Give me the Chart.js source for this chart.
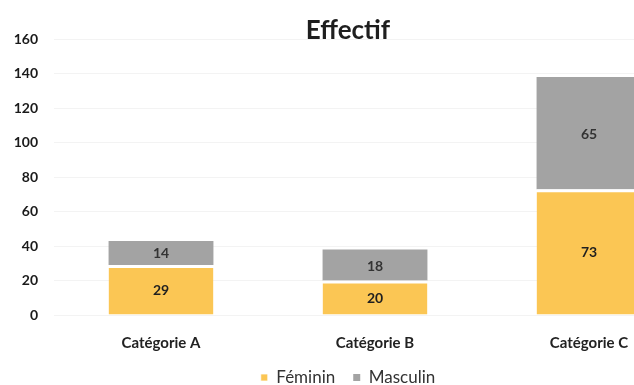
<!DOCTYPE html>
<html>
<head>
<meta charset="utf-8">
<script src="https://cdn.jsdelivr.net/npm/chart.js@4/dist/chart.umd.min.js"></script>
<style>
  html, body { margin: 0; padding: 0; background: #fff; overflow: hidden; }
  #wrap { width: 696px; height: 396px; }
</style>
</head>
<body>
<div id="wrap"><canvas id="c" width="696" height="396"></canvas></div>
<script>
const categories = ['Catégorie A', 'Catégorie B', 'Catégorie C'];
const feminin = [29, 20, 73];
const masculin = [14, 18, 65];
const yTicks = [0, 20, 40, 60, 80, 100, 120, 140, 160];

const FONT = 'Lato, "Open Sans", sans-serif';

// Writes each segment's value in the middle of its bar piece
const segmentValues = {
  id: 'segmentValues',
  afterDatasetsDraw(chart) {
    const ctx = chart.ctx;
    ctx.save();
    ctx.font = 'bold 14px ' + FONT;
    ctx.textAlign = 'center';
    ctx.textBaseline = 'middle';
    chart.data.datasets.forEach((ds, i) => {
      const meta = chart.getDatasetMeta(i);
      meta.data.forEach((bar, j) => {
        const p = bar.getProps(['x', 'y', 'base'], true);
        ctx.fillStyle = ds.valueColor;
        ctx.fillText(String(ds.data[j]), p.x, (p.y + p.base) / 2 + 1);
      });
    });
    ctx.restore();
  }
};

new Chart(document.getElementById('c'), {
  type: 'bar',
  data: {
    labels: categories,
    datasets: [
      {
        label: 'Féminin',
        data: feminin,
        backgroundColor: '#fbc654',
        borderColor: '#ffffff',
        borderWidth: { top: 3, right: 0, bottom: 0, left: 0 },
        borderSkipped: false,
        valueColor: '#1f1f1f'
      },
      {
        label: 'Masculin',
        data: masculin,
        backgroundColor: '#a3a3a3',
        borderWidth: 0,
        valueColor: '#333333'
      }
    ]
  },
  options: {
    responsive: false,
    animation: false,
    layout: { padding: { left: 0, right: 0, top: 0, bottom: 0 } },
    datasets: { bar: { categoryPercentage: 1.0, barPercentage: 0.49 } },
    scales: {
      x: {
        stacked: true,
        grid: { display: false, drawTicks: false },
        border: { display: false },
        ticks: { color: '#222', font: { family: FONT, size: 15, weight: 'bold' }, padding: 19 },
        afterFit(scale) { scale.height = 36; }
      },
      y: {
        stacked: true,
        min: 0,
        max: 160,
        afterBuildTicks(scale) { scale.ticks = yTicks.map(v => ({ value: v })); },
        grid: { color: '#f3f3f3', drawTicks: false },
        border: { display: false },
        ticks: { color: '#1a1a1a', font: { family: FONT, size: 14, weight: 'bold' }, padding: 16 },
        afterFit(scale) { scale.width = 54; }
      }
    },
    plugins: {
      title: {
        display: true,
        text: 'Effectif',
        color: '#1e1e1e',
        font: { family: FONT, size: 26, weight: 'bold' },
        padding: { top: 15, bottom: -7 }
      },
      legend: {
        position: 'bottom',
        labels: {
          color: '#333',
          font: { family: FONT, size: 17 },
          boxWidth: 7,
          boxHeight: 7,
          padding: 18
        }
      },
      tooltip: { enabled: false }
    }
  },
  plugins: [segmentValues]
});
</script>
</body>
</html>
